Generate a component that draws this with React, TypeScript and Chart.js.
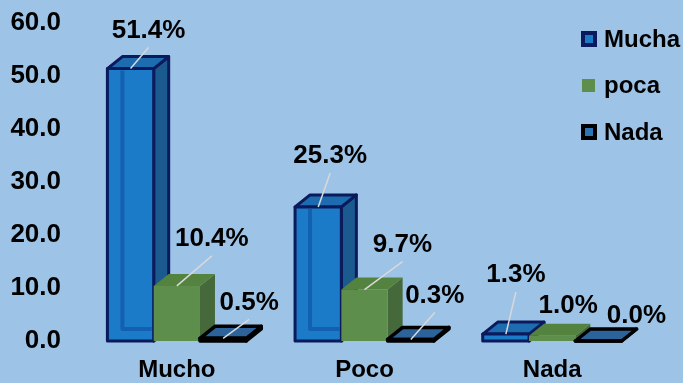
import React, { useEffect, useRef } from "react";
import { Chart, registerables } from "chart.js";

Chart.register(...registerables);

// ---- data ----
const categories = ["Mucho", "Poco", "Nada"];
const seriesNames = ["Mucha", "poca", "Nada"];
const muchaValues = [51.4, 25.3, 1.3];
const pocaValues = [10.4, 9.7, 1.0];
const nadaValues = [0.5, 0.3, 0.0];
const yMin = 0;
const yMax = 60;
const yStep = 10;

// ---- styles (not data) ----
const BG = "#9DC3E6";
const DEPTH_X = 15;
const DEPTH_Y = 12;
const FONT = "'Liberation Sans', Arial, sans-serif";

const seriesStyles = [
  { front: "#1C7BC8", top: "#1E6CB0", side: "#1A5A8F", border: "#0B1A5C", bw: 3, back: "rgba(0,45,130,0.35)" },
  { front: "#5D8E4C", top: "#54833F", side: "#46693B", border: "", bw: 0, back: "" },
  { front: "#2E6DA4", top: "#2B639A", side: "#1F4E7A", border: "#000000", bw: 3.5, back: "" },
];

// label offsets relative to the bar's front-top centre: [dx, dy, leaderLine]
const labelNudges: [number, number, boolean][][] = [
  [[18, -38, true], [12, -51, true], [10, -59, true]],
  [[35, -47, true], [38, -45, true], [16, -30, false]],
  [[26, -36, true], [24, -44, true], [38, -25, false]],
];

function poly(ctx: CanvasRenderingContext2D, pts: number[][], fill: string, stroke: string, lw: number) {
  ctx.beginPath();
  ctx.moveTo(pts[0][0], pts[0][1]);
  for (let i = 1; i < pts.length; i++) ctx.lineTo(pts[i][0], pts[i][1]);
  ctx.closePath();
  ctx.fillStyle = fill;
  ctx.fill();
  if (stroke && lw > 0) {
    ctx.lineWidth = lw;
    ctx.strokeStyle = stroke;
    ctx.lineJoin = "round";
    ctx.stroke();
  }
}

const plugin3d = {
  id: "bars3d",
  beforeDraw(chart: any) {
    const ctx = chart.ctx;
    ctx.save();
    ctx.fillStyle = BG;
    ctx.fillRect(0, 0, chart.width, chart.height);
    ctx.restore();
  },
  afterDatasetsDraw(chart: any) {
    const ctx: CanvasRenderingContext2D = chart.ctx;
    ctx.save();
    const n = chart.data.datasets.length;
    const count = chart.data.labels.length;
    for (let j = 0; j < count; j++) {
      for (let i = 0; i < n; i++) {
        const el = chart.getDatasetMeta(i).data[j];
        const { x, y, base, width } = el.getProps(["x", "y", "base", "width"], true);
        const st = seriesStyles[i];
        const l = x - width / 2;
        const r = x + width / 2;
        const t = Math.min(y, base);
        const b = Math.max(y, base);
        // side face
        poly(ctx, [[r, t], [r + DEPTH_X, t - DEPTH_Y], [r + DEPTH_X, b - DEPTH_Y], [r, b]], st.side, st.border, st.bw);
        // top face
        poly(ctx, [[l, t], [l + DEPTH_X, t - DEPTH_Y], [r + DEPTH_X, t - DEPTH_Y], [r, t]], st.top, st.border, st.bw);
        // front face
        poly(ctx, [[l, t], [r, t], [r, b], [l, b]], st.front, st.border, st.bw);
        // glass back edges
        if (st.back && b - t > 20) {
          ctx.strokeStyle = st.back;
          ctx.lineWidth = 4;
          ctx.beginPath();
          ctx.moveTo(l + DEPTH_X, t + 2);
          ctx.lineTo(l + DEPTH_X, b - DEPTH_Y);
          ctx.lineTo(r - 2, b - DEPTH_Y);
          ctx.stroke();
        }
      }
    }
    // labels
    ctx.font = `bold 26px ${FONT}`;
    ctx.textAlign = "center";
    ctx.textBaseline = "middle";
    for (let i = 0; i < n; i++) {
      const meta = chart.getDatasetMeta(i);
      const values = chart.data.datasets[i].data;
      meta.data.forEach((el: any, j: number) => {
        const { x, y } = el.getProps(["x", "y"], true);
        const [dx, dy, line] = labelNudges[i][j];
        const lx = x + dx;
        const ly = y + dy;
        if (line) {
          ctx.strokeStyle = "#D9D9D9";
          ctx.lineWidth = 1.5;
          ctx.beginPath();
          ctx.moveTo(x, y);
          ctx.lineTo(lx, ly + 17);
          ctx.stroke();
        }
        ctx.fillStyle = "#000";
        ctx.fillText(`${Number(values[j]).toFixed(1)}%`, lx, ly);
      });
    }
    ctx.restore();
  },
  afterDraw(chart: any) {
    const ctx: CanvasRenderingContext2D = chart.ctx;
    ctx.save();
    const baselines = [47, 93, 140];
    ctx.font = `bold 24px ${FONT}`;
    ctx.textAlign = "left";
    ctx.textBaseline = "alphabetic";
    seriesNames.forEach((name, i) => {
      const by = baselines[i];
      const st = seriesStyles[i];
      if (i === 1) {
        ctx.fillStyle = st.front;
        ctx.fillRect(582, by - 14, 13, 13);
      } else {
        ctx.fillStyle = st.border;
        ctx.fillRect(581, by - 16, 16, 16);
        ctx.fillStyle = i === 0 ? "#1C7BC8" : "#2E75B6";
        ctx.fillRect(585, by - 12, 8, 8);
      }
      ctx.fillStyle = "#000";
      ctx.fillText(name, 604, by);
    });
    ctx.restore();
  },
};

export default function App() {
  const ref = useRef<HTMLCanvasElement | null>(null);
  useEffect(() => {
    document.body.style.margin = "0";
    document.body.style.background = BG;
    const canvas = ref.current;
    if (!canvas) return;
    const chart = new Chart(canvas, {
      type: "bar",
      data: {
        labels: categories,
        datasets: [
          { label: seriesNames[0], data: muchaValues, backgroundColor: "rgba(0,0,0,0)", borderWidth: 0 },
          { label: seriesNames[1], data: pocaValues, backgroundColor: "rgba(0,0,0,0)", borderWidth: 0 },
          { label: seriesNames[2], data: nadaValues, backgroundColor: "rgba(0,0,0,0)", borderWidth: 0 },
        ],
      },
      options: {
        responsive: false,
        animation: false,
        events: [],
        layout: { padding: { top: 23, right: 37, left: 0, bottom: 0 } },
        datasets: { bar: { categoryPercentage: 0.74, barPercentage: 1.0 } },
        plugins: { legend: { display: false }, tooltip: { enabled: false } },
        scales: {
          x: {
            grid: { display: false, drawTicks: false },
            border: { display: false },
            ticks: { color: "#000", font: { family: FONT, size: 24, weight: "bold" }, padding: 15 },
            afterFit: (s: any) => { s.height = 42; s.paddingLeft = 0; s.paddingRight = 0; },
          },
          y: {
            min: yMin,
            max: yMax,
            grid: { display: false, drawTicks: false },
            border: { display: false },
            ticks: {
              stepSize: yStep,
              color: "#000",
              font: { family: FONT, size: 26, weight: "bold", lineHeight: 0.6 },
              padding: 22,
              callback: (v: any) => Number(v).toFixed(1),
            },
            afterFit: (s: any) => { s.width = 83; s.paddingTop = 0; s.paddingBottom = 0; },
          },
        },
      } as any,
      plugins: [plugin3d],
    });
    return () => chart.destroy();
  }, []);
  return (
    <div style={{ width: 683, height: 383 }}>
      <canvas ref={ref} width={683} height={383} style={{ display: "block", width: 683, height: 383 }} />
    </div>
  );
}
